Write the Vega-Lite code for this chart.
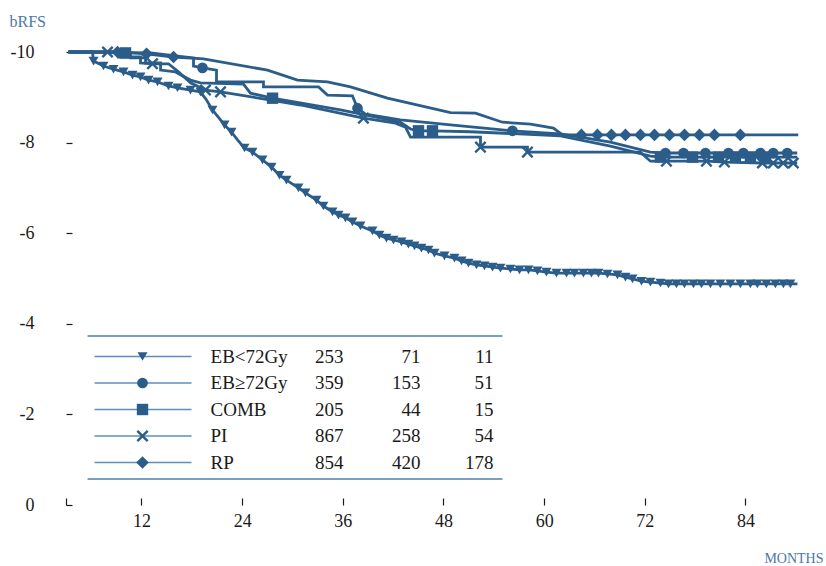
{
  "$schema": "https://vega.github.io/schema/vega-lite/v6.json",
  "width": 734,
  "height": 453,
  "autosize": "none",
  "padding": {"left": 66, "top": 52, "right": 26, "bottom": 61},
  "background": "white",
  "config": {
    "view": {"stroke": null},
    "font": "Liberation Serif",
    "axis": {
      "grid": false,
      "domain": false,
      "labelFont": "Liberation Serif",
      "labelFontSize": 18,
      "labelColor": "#1a1a1a",
      "tickColor": "#1a1a1a",
      "tickWidth": 1.2,
      "labelFlush": false,
      "labelOverlap": false,
      "titleFont": "Liberation Serif",
      "titleFontWeight": "normal",
      "titleColor": "#4a78a6"
    }
  },
  "datasets": {
    "km": [
      {"g":"EB<72Gy","m":3.3,"s":10,"c":0},{"g":"EB<72Gy","m":6.16,"s":10,"c":0},{"g":"EB<72Gy","m":6.28,"s":9.8,"c":1},{"g":"EB<72Gy","m":7.47,"s":9.69,"c":1},{"g":"EB<72Gy","m":8.66,"s":9.62,"c":1},{"g":"EB<72Gy","m":9.86,"s":9.56,"c":1},{"g":"EB<72Gy","m":10.93,"s":9.49,"c":1},{"g":"EB<72Gy","m":11.88,"s":9.45,"c":1},{"g":"EB<72Gy","m":12.84,"s":9.38,"c":1},{"g":"EB<72Gy","m":13.91,"s":9.34,"c":1},{"g":"EB<72Gy","m":15.22,"s":9.25,"c":1},{"g":"EB<72Gy","m":16.29,"s":9.21,"c":1},{"g":"EB<72Gy","m":17.84,"s":9.16,"c":1},{"g":"EB<72Gy","m":19.03,"s":9.12,"c":1},{"g":"EB<72Gy","m":19.75,"s":8.94,"c":0},{"g":"EB<72Gy","m":20.46,"s":8.72,"c":1},{"g":"EB<72Gy","m":21.9,"s":8.39,"c":1},{"g":"EB<72Gy","m":22.73,"s":8.23,"c":1},{"g":"EB<72Gy","m":23.45,"s":8.06,"c":0},{"g":"EB<72Gy","m":24.28,"s":7.88,"c":1},{"g":"EB<72Gy","m":25.23,"s":7.79,"c":1},{"g":"EB<72Gy","m":26.42,"s":7.62,"c":1},{"g":"EB<72Gy","m":27.5,"s":7.46,"c":1},{"g":"EB<72Gy","m":28.45,"s":7.28,"c":1},{"g":"EB<72Gy","m":29.28,"s":7.17,"c":1},{"g":"EB<72Gy","m":30.71,"s":7.0,"c":1},{"g":"EB<72Gy","m":31.55,"s":6.89,"c":1},{"g":"EB<72Gy","m":32.86,"s":6.73,"c":1},{"g":"EB<72Gy","m":33.69,"s":6.6,"c":1},{"g":"EB<72Gy","m":34.77,"s":6.47,"c":1},{"g":"EB<72Gy","m":35.48,"s":6.4,"c":1},{"g":"EB<72Gy","m":36.31,"s":6.34,"c":1},{"g":"EB<72Gy","m":37.15,"s":6.25,"c":1},{"g":"EB<72Gy","m":38.1,"s":6.16,"c":1},{"g":"EB<72Gy","m":39.53,"s":6.05,"c":1},{"g":"EB<72Gy","m":40.36,"s":5.96,"c":1},{"g":"EB<72Gy","m":41.2,"s":5.89,"c":1},{"g":"EB<72Gy","m":42.04,"s":5.85,"c":1},{"g":"EB<72Gy","m":42.99,"s":5.81,"c":1},{"g":"EB<72Gy","m":43.82,"s":5.76,"c":1},{"g":"EB<72Gy","m":44.54,"s":5.72,"c":1},{"g":"EB<72Gy","m":45.37,"s":5.67,"c":1},{"g":"EB<72Gy","m":46.21,"s":5.63,"c":1},{"g":"EB<72Gy","m":46.93,"s":5.56,"c":1},{"g":"EB<72Gy","m":48.12,"s":5.5,"c":1},{"g":"EB<72Gy","m":49.31,"s":5.45,"c":1},{"g":"EB<72Gy","m":50.15,"s":5.39,"c":1},{"g":"EB<72Gy","m":50.98,"s":5.34,"c":1},{"g":"EB<72Gy","m":51.93,"s":5.3,"c":1},{"g":"EB<72Gy","m":52.88,"s":5.28,"c":1},{"g":"EB<72Gy","m":53.84,"s":5.25,"c":1},{"g":"EB<72Gy","m":54.79,"s":5.23,"c":1},{"g":"EB<72Gy","m":55.98,"s":5.21,"c":1},{"g":"EB<72Gy","m":57.06,"s":5.19,"c":1},{"g":"EB<72Gy","m":58.13,"s":5.19,"c":1},{"g":"EB<72Gy","m":59.2,"s":5.17,"c":1},{"g":"EB<72Gy","m":60.27,"s":5.14,"c":1},{"g":"EB<72Gy","m":61.46,"s":5.12,"c":1},{"g":"EB<72Gy","m":62.66,"s":5.12,"c":1},{"g":"EB<72Gy","m":63.61,"s":5.12,"c":1},{"g":"EB<72Gy","m":64.68,"s":5.12,"c":1},{"g":"EB<72Gy","m":65.64,"s":5.12,"c":1},{"g":"EB<72Gy","m":66.47,"s":5.12,"c":1},{"g":"EB<72Gy","m":67.55,"s":5.1,"c":1},{"g":"EB<72Gy","m":68.74,"s":5.08,"c":1},{"g":"EB<72Gy","m":69.69,"s":5.03,"c":1},{"g":"EB<72Gy","m":70.53,"s":4.99,"c":1},{"g":"EB<72Gy","m":71.6,"s":4.94,"c":1},{"g":"EB<72Gy","m":72.67,"s":4.92,"c":1},{"g":"EB<72Gy","m":73.86,"s":4.9,"c":1},{"g":"EB<72Gy","m":74.82,"s":4.88,"c":1},{"g":"EB<72Gy","m":75.77,"s":4.88,"c":1},{"g":"EB<72Gy","m":76.72,"s":4.88,"c":1},{"g":"EB<72Gy","m":77.8,"s":4.88,"c":1},{"g":"EB<72Gy","m":78.75,"s":4.88,"c":1},{"g":"EB<72Gy","m":79.82,"s":4.88,"c":1},{"g":"EB<72Gy","m":81.0,"s":4.88,"c":1},{"g":"EB<72Gy","m":82.2,"s":4.88,"c":1},{"g":"EB<72Gy","m":83.39,"s":4.88,"c":1},{"g":"EB<72Gy","m":84.58,"s":4.88,"c":1},{"g":"EB<72Gy","m":85.42,"s":4.88,"c":1},{"g":"EB<72Gy","m":86.49,"s":4.88,"c":1},{"g":"EB<72Gy","m":87.56,"s":4.88,"c":1},{"g":"EB<72Gy","m":88.52,"s":4.88,"c":1},{"g":"EB<72Gy","m":89.35,"s":4.88,"c":1},{"g":"EB<72Gy","m":90.19,"s":4.88,"c":0},

      {"g":"EB≥72Gy","m":3.3,"s":10,"c":0},{"g":"EB≥72Gy","m":13.08,"s":9.98,"c":0},{"g":"EB≥72Gy","m":18.2,"s":9.87,"c":0},{"g":"EB≥72Gy","m":18.2,"s":9.69,"c":0},{"g":"EB≥72Gy","m":19.27,"s":9.65,"c":1},{"g":"EB≥72Gy","m":20.94,"s":9.6,"c":0},{"g":"EB≥72Gy","m":20.94,"s":9.34,"c":0},{"g":"EB≥72Gy","m":26.54,"s":9.34,"c":0},{"g":"EB≥72Gy","m":26.54,"s":9.23,"c":0},{"g":"EB≥72Gy","m":33.11,"s":9.23,"c":0},{"g":"EB≥72Gy","m":34.17,"s":9.05,"c":0},{"g":"EB≥72Gy","m":37.15,"s":9.03,"c":0},{"g":"EB≥72Gy","m":37.75,"s":8.76,"c":1},{"g":"EB≥72Gy","m":38.7,"s":8.63,"c":0},{"g":"EB≥72Gy","m":42.87,"s":8.5,"c":0},{"g":"EB≥72Gy","m":48.84,"s":8.39,"c":0},{"g":"EB≥72Gy","m":56.22,"s":8.26,"c":1},{"g":"EB≥72Gy","m":61.94,"s":8.19,"c":0},{"g":"EB≥72Gy","m":67.9,"s":8.01,"c":0},{"g":"EB≥72Gy","m":72.67,"s":7.79,"c":0},{"g":"EB≥72Gy","m":74.46,"s":7.77,"c":1},{"g":"EB≥72Gy","m":76.61,"s":7.77,"c":1},{"g":"EB≥72Gy","m":79.23,"s":7.77,"c":1},{"g":"EB≥72Gy","m":81.97,"s":7.77,"c":1},{"g":"EB≥72Gy","m":83.75,"s":7.77,"c":1},{"g":"EB≥72Gy","m":85.78,"s":7.77,"c":1},{"g":"EB≥72Gy","m":87.31,"s":7.77,"c":1},{"g":"EB≥72Gy","m":88.98,"s":7.77,"c":1},{"g":"EB≥72Gy","m":90.17,"s":7.77,"c":0},

      {"g":"COMB","m":3.3,"s":10,"c":0},{"g":"COMB","m":9.5,"s":10,"c":0},{"g":"COMB","m":10.09,"s":9.98,"c":1},{"g":"COMB","m":10.69,"s":9.98,"c":0},{"g":"COMB","m":10.69,"s":9.87,"c":0},{"g":"COMB","m":12.48,"s":9.87,"c":0},{"g":"COMB","m":12.48,"s":9.76,"c":0},{"g":"COMB","m":14.27,"s":9.76,"c":0},{"g":"COMB","m":14.27,"s":9.6,"c":0},{"g":"COMB","m":16.05,"s":9.56,"c":0},{"g":"COMB","m":17.84,"s":9.38,"c":0},{"g":"COMB","m":19.03,"s":9.32,"c":0},{"g":"COMB","m":24.16,"s":9.29,"c":0},{"g":"COMB","m":24.99,"s":9.09,"c":0},{"g":"COMB","m":27.62,"s":8.98,"c":1},{"g":"COMB","m":35.72,"s":8.72,"c":0},{"g":"COMB","m":42.87,"s":8.45,"c":0},{"g":"COMB","m":44.07,"s":8.3,"c":0},{"g":"COMB","m":45.02,"s":8.26,"c":1},{"g":"COMB","m":46.69,"s":8.26,"c":1},{"g":"COMB","m":51.22,"s":8.24,"c":0},{"g":"COMB","m":61.94,"s":8.15,"c":0},{"g":"COMB","m":67.9,"s":7.92,"c":0},{"g":"COMB","m":72.67,"s":7.7,"c":0},{"g":"COMB","m":73.86,"s":7.68,"c":1},{"g":"COMB","m":77.68,"s":7.68,"c":1},{"g":"COMB","m":80.78,"s":7.68,"c":1},{"g":"COMB","m":82.8,"s":7.68,"c":1},{"g":"COMB","m":84.59,"s":7.68,"c":1},{"g":"COMB","m":86.37,"s":7.68,"c":1},{"g":"COMB","m":90.17,"s":7.68,"c":0},

      {"g":"PI","m":3.3,"s":10,"c":0},{"g":"PI","m":7.95,"s":10,"c":1},{"g":"PI","m":9.26,"s":10,"c":0},{"g":"PI","m":9.26,"s":9.89,"c":0},{"g":"PI","m":11.88,"s":9.89,"c":0},{"g":"PI","m":11.88,"s":9.76,"c":0},{"g":"PI","m":13.31,"s":9.74,"c":1},{"g":"PI","m":15.22,"s":9.74,"c":0},{"g":"PI","m":16.41,"s":9.56,"c":0},{"g":"PI","m":17.84,"s":9.32,"c":0},{"g":"PI","m":19.63,"s":9.16,"c":1},{"g":"PI","m":21.42,"s":9.12,"c":1},{"g":"PI","m":30.96,"s":8.83,"c":0},{"g":"PI","m":38.46,"s":8.54,"c":1},{"g":"PI","m":42.28,"s":8.43,"c":0},{"g":"PI","m":43.47,"s":8.34,"c":0},{"g":"PI","m":44.07,"s":8.12,"c":0},{"g":"PI","m":52.41,"s":8.12,"c":0},{"g":"PI","m":52.41,"s":7.9,"c":1},{"g":"PI","m":58.01,"s":7.9,"c":0},{"g":"PI","m":58.01,"s":7.79,"c":1},{"g":"PI","m":71.48,"s":7.79,"c":0},{"g":"PI","m":72.67,"s":7.59,"c":0},{"g":"PI","m":74.58,"s":7.59,"c":1},{"g":"PI","m":79.35,"s":7.59,"c":1},{"g":"PI","m":81.49,"s":7.57,"c":1},{"g":"PI","m":86.02,"s":7.55,"c":1},{"g":"PI","m":87.31,"s":7.55,"c":1},{"g":"PI","m":88.5,"s":7.55,"c":1},{"g":"PI","m":89.7,"s":7.55,"c":1},{"g":"PI","m":90.17,"s":7.55,"c":0},

      {"g":"RP","m":3.3,"s":10,"c":0},{"g":"RP","m":9.14,"s":10,"c":1},{"g":"RP","m":12.6,"s":9.96,"c":1},{"g":"RP","m":15.82,"s":9.89,"c":1},{"g":"RP","m":19.39,"s":9.85,"c":0},{"g":"RP","m":27.02,"s":9.6,"c":0},{"g":"RP","m":30.6,"s":9.38,"c":0},{"g":"RP","m":34.17,"s":9.34,"c":0},{"g":"RP","m":36.91,"s":9.23,"c":0},{"g":"RP","m":41.32,"s":8.98,"c":0},{"g":"RP","m":48.84,"s":8.66,"c":0},{"g":"RP","m":51.81,"s":8.65,"c":0},{"g":"RP","m":55.03,"s":8.45,"c":0},{"g":"RP","m":58.37,"s":8.41,"c":0},{"g":"RP","m":61.11,"s":8.32,"c":0},{"g":"RP","m":62.18,"s":8.17,"c":0},{"g":"RP","m":64.44,"s":8.17,"c":1},{"g":"RP","m":66.35,"s":8.17,"c":1},{"g":"RP","m":68.02,"s":8.17,"c":1},{"g":"RP","m":69.69,"s":8.17,"c":1},{"g":"RP","m":71.48,"s":8.17,"c":1},{"g":"RP","m":73.15,"s":8.17,"c":1},{"g":"RP","m":74.94,"s":8.17,"c":1},{"g":"RP","m":76.73,"s":8.17,"c":1},{"g":"RP","m":78.51,"s":8.17,"c":1},{"g":"RP","m":80.3,"s":8.17,"c":1},{"g":"RP","m":83.39,"s":8.17,"c":1},{"g":"RP","m":90.29,"s":8.17,"c":0}
    ],
    "groups": [
      {"g": "EB<72Gy", "n1": 253, "n2": 71, "n3": 11},
      {"g": "EB≥72Gy", "n1": 359, "n2": 153, "n3": 51},
      {"g": "COMB", "n1": 205, "n2": 44, "n3": 15},
      {"g": "PI", "n1": 867, "n2": 258, "n3": 54},
      {"g": "RP", "n1": 854, "n2": 420, "n3": 178}
    ]
  },
  "resolve": {"scale": {"x": "independent", "y": "independent"}},
  "layer": [
    {
      "data": {"name": "km"},
      "encoding": {
        "x": {
          "field": "m", "type": "quantitative",
          "scale": {"domain": [3, 90.5], "nice": false, "zero": false},
          "axis": {
            "values": [3, 12, 24, 36, 48, 60, 72, 84],
            "labelExpr": "datum.value === 3 ? '' : datum.label",
            "tickSize": -7,
            "labelPadding": 14,
            "title": "MONTHS",
            "titleFontSize": 14,
            "titleX": 757,
            "titleY": 53,
            "titleAlign": "right",
            "titleBaseline": "middle"
          }
        },
        "y": {
          "field": "s", "type": "quantitative",
          "scale": {"domain": [0, 10], "nice": false, "zero": false},
          "axis": {
            "values": [0, 2, 4, 6, 8, 10],
            "labelExpr": "datum.value === 0 ? '0' : '-' + datum.value",
            "tickSize": -6,
            "labelPadding": 38,
            "title": "bRFS",
            "titleFontSize": 16,
            "titleAngle": 0,
            "titleAlign": "left",
            "titleBaseline": "alphabetic",
            "titleX": -57,
            "titleY": -26
          }
        }
      },
      "layer": [
        {
          "mark": {"type": "line", "color": "#2b5d8b", "strokeWidth": 2.8, "strokeJoin": "miter"},
          "encoding": {
            "detail": {"field": "g"},
            "order": [{"field": "m"}, {"field": "s", "sort": "descending"}]
          }
        },
        {
          "transform": [{"filter": "datum.c === 1"}],
          "mark": {"type": "point", "filled": true, "opacity": 1, "color": "#2b5d8b"},
          "encoding": {
            "shape": {
              "field": "g", "type": "nominal", "legend": null,
              "scale": {
                "domain": ["EB<72Gy", "EB≥72Gy", "COMB", "PI", "RP"],
                "range": ["triangle-down", "circle", "square", "M-1,-0.72L-0.72,-1L0,-0.28L0.72,-1L1,-0.72L0.28,0L1,0.72L0.72,1L0,0.28L-0.72,1L-1,0.72L-0.28,0Z", "diamond"]
              }
            },
            "size": {
              "field": "g", "type": "nominal", "legend": null,
              "scale": {
                "domain": ["EB<72Gy", "EB≥72Gy", "COMB", "PI", "RP"],
                "range": [100, 160, 110, 150, 170]
              }
            }
          }
        }
      ]
    },
    {
      "data": {"name": "groups"},
      "encoding": {
        "y": {
          "field": "g", "type": "nominal", "axis": null,
          "scale": {"type": "point", "padding": 0, "domain": ["EB<72Gy", "EB≥72Gy", "COMB", "PI", "RP"], "range": [304.5, 410.5]}
        }
      },
      "layer": [
        {
          "transform": [{"filter": "datum.g === 'EB<72Gy'"}],
          "mark": {"type": "rule", "color": "#4f7fab", "strokeWidth": 1.5, "yOffset": -20.5},
          "encoding": {
            "x": {"datum": 5.57, "type": "quantitative", "scale": {"domain": [3, 90.5], "nice": false, "zero": false}, "axis": null},
            "x2": {"datum": 55.03}
          }
        },
        {
          "transform": [{"filter": "datum.g === 'RP'"}],
          "mark": {"type": "rule", "color": "#4f7fab", "strokeWidth": 1.5, "yOffset": 16.5},
          "encoding": {
            "x": {"datum": 5.57, "type": "quantitative", "axis": null},
            "x2": {"datum": 55.03}
          }
        },
        {
          "mark": {"type": "rule", "color": "#5f8dba", "strokeWidth": 1.5},
          "encoding": {
            "x": {"datum": 6.4, "type": "quantitative", "axis": null},
            "x2": {"datum": 17.96}
          }
        },
        {
          "mark": {"type": "point", "filled": true, "opacity": 1, "color": "#2b5d8b"},
          "encoding": {
            "x": {"datum": 12.12, "type": "quantitative", "axis": null},
            "shape": {"field": "g", "type": "nominal", "legend": null},
            "size": {"field": "g", "type": "nominal", "legend": null}
          }
        },
        {
          "mark": {"type": "text", "align": "left", "baseline": "middle", "font": "Liberation Serif", "fontSize": 19, "color": "#1a1a1a"},
          "encoding": {
            "x": {"datum": 20.23, "type": "quantitative", "axis": null},
            "text": {"field": "g"}
          }
        },
        {
          "mark": {"type": "text", "align": "right", "baseline": "middle", "font": "Liberation Serif", "fontSize": 19, "color": "#1a1a1a"},
          "encoding": {
            "x": {"datum": 36.08, "type": "quantitative", "axis": null},
            "text": {"field": "n1"}
          }
        },
        {
          "mark": {"type": "text", "align": "right", "baseline": "middle", "font": "Liberation Serif", "fontSize": 19, "color": "#1a1a1a"},
          "encoding": {
            "x": {"datum": 45.26, "type": "quantitative", "axis": null},
            "text": {"field": "n2"}
          }
        },
        {
          "mark": {"type": "text", "align": "right", "baseline": "middle", "font": "Liberation Serif", "fontSize": 19, "color": "#1a1a1a"},
          "encoding": {
            "x": {"datum": 53.96, "type": "quantitative", "axis": null},
            "text": {"field": "n3"}
          }
        }
      ]
    }
  ]
}
